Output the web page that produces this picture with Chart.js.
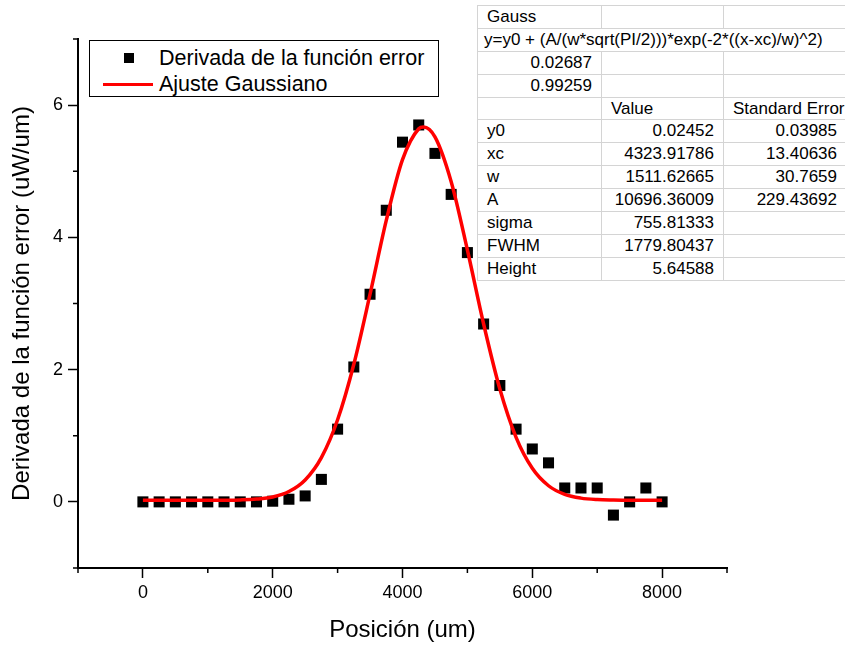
<!DOCTYPE html>
<html lang="es">
<head>
<meta charset="UTF-8">
<title>Derivada de la función error</title>
<script src="https://cdn.jsdelivr.net/npm/chart.js@4.4.0/dist/chart.umd.min.js"></script>
<style>
    body { margin: 0; overflow: hidden; background: #fff; font-family: "Liberation Sans", Arial, sans-serif; }
    #wrap { position: relative; width: 845px; height: 647px; }
    #legend { position: absolute; left: 89px; top: 40px; width: 348px; height: 55px; border: 1px solid #000; background: #fff; font-size: 21.5px; }
    .row { position: absolute; left: 0; height: 26px; line-height: 26px; white-space: nowrap; }
    .sq { position: absolute; left: 34px; top: 8px; width: 10px; height: 10px; background: #000; }
    .ln { position: absolute; left: 13px; top: 12px; width: 50px; height: 3px; background: #f00; }
    .txt { position: absolute; left: 69px; }
    #fit { position: absolute; left: 477px; top: 5px; width: 369px; border-collapse: collapse; table-layout: fixed; font-size: 17px; background: #fff; border: 1.5px solid #444; }
    #fit td { border: 1.5px solid #d4d4d4; height: 21.9px; padding: 0 9px; white-space: nowrap; overflow: visible; line-height: 20px; }
    #fit td.r { text-align: right; }
</style>
</head>
<body>
<div id="wrap">
    <canvas id="myChart" width="845" height="647"></canvas>
    <div id="legend">
        <div class="row" style="top:4px"><span class="sq"></span><span class="txt">Derivada de la función error</span></div>
        <div class="row" style="top:30px"><span class="ln"></span><span class="txt">Ajuste Gaussiano</span></div>
    </div>
    <table id="fit">
        <colgroup><col style="width:124px"><col style="width:122px"><col style="width:123px"></colgroup>
        <tr><td>Gauss</td><td></td><td></td></tr>
        <tr><td colspan="3" style="padding-left:6px">y=y0 + (A/(w*sqrt(PI/2)))*exp(-2*((x-xc)/w)^2)</td></tr>
        <tr><td class="r">0.02687</td><td></td><td></td></tr>
        <tr><td class="r">0.99259</td><td></td><td></td></tr>
        <tr><td></td><td>Value</td><td>Standard Error</td></tr>
        <tr><td>y0</td><td class="r">0.02452</td><td class="r">0.03985</td></tr>
        <tr><td>xc</td><td class="r">4323.91786</td><td class="r">13.40636</td></tr>
        <tr><td>w</td><td class="r">1511.62665</td><td class="r">30.7659</td></tr>
        <tr><td>A</td><td class="r">10696.36009</td><td class="r">229.43692</td></tr>
        <tr><td>sigma</td><td class="r">755.81333</td><td></td></tr>
        <tr><td>FWHM</td><td class="r">1779.80437</td><td></td></tr>
        <tr><td>Height</td><td class="r">5.64588</td><td></td></tr>
    </table>
</div>
<script>
    // puntos medidos
    const posicion = [0, 250, 500, 750, 1000, 1250, 1500, 1750, 2000, 2250, 2500, 2750, 3000, 3250, 3500, 3750, 4000,
        4250, 4500, 4750, 5000, 5250, 5500, 5750, 6000, 6250, 6500, 6750, 7000, 7250, 7500, 7750, 8000];
    const derivada = [0, 0, 0, 0, 0, 0, 0, 0, 0.01, 0.04, 0.09, 0.34, 1.1, 2.04, 3.14, 4.41, 5.44,
        5.7, 5.27, 4.65, 3.77, 2.69, 1.76, 1.1, 0.8, 0.59, 0.21, 0.21, 0.21, -0.2, 0, 0.21, 0];

    // curva de ajuste
    const ajusteX = [0, 250, 500, 750, 1000, 1250, 1500, 1750, 2000, 2250, 2500, 2750, 3000, 3250, 3500, 3750, 4000,
        4250, 4324, 4500, 4750, 5000, 5250, 5500, 5750, 6000, 6250, 6500, 6750, 7000, 7250, 7500, 7750, 8000];
    const ajusteY = [0.025, 0.025, 0.025, 0.025, 0.025, 0.026, 0.03, 0.042, 0.074, 0.156, 0.332, 0.67, 1.242, 2.082, 3.141, 4.256, 5.175,
        5.643, 5.67, 5.52, 4.842, 3.809, 2.69, 1.707, 0.976, 0.508, 0.244, 0.114, 0.057, 0.035, 0.028, 0.025, 0.025, 0.025];

    // ejes
    const xMajor = [0, 2000, 4000, 6000, 8000];
    const xMinor = [-1000, 1000, 3000, 5000, 7000, 9000];
    const yMajor = [0, 2, 4, 6];
    const yMinor = [-1, 1, 3, 5, 7];

    const font = "'Liberation Sans', Arial, sans-serif";

    const minorTicks = {
        id: 'minorTicks',
        afterDraw(chart) {
            const {ctx, chartArea, scales} = chart;
            ctx.save();
            ctx.strokeStyle = '#000';
            ctx.lineWidth = 1.5;
            ctx.beginPath();
            xMinor.forEach(v => {
                const px = scales.x.getPixelForValue(v);
                ctx.moveTo(px, chartArea.bottom);
                ctx.lineTo(px, chartArea.bottom + 5);
            });
            yMinor.forEach(v => {
                const py = scales.y.getPixelForValue(v);
                ctx.moveTo(chartArea.left - 5, py);
                ctx.lineTo(chartArea.left, py);
            });
            ctx.stroke();
            ctx.restore();
        }
    };

    const ctx = document.getElementById('myChart').getContext('2d');
    new Chart(ctx, {
        type: 'scatter',
        data: {
            datasets: [{
                label: 'Ajuste Gaussiano',
                data: ajusteX.map((x, i) => ({x: x, y: ajusteY[i]})),
                showLine: true,
                borderColor: '#ff0000',
                borderWidth: 3.5,
                pointRadius: 0,
                cubicInterpolationMode: 'monotone',
                order: 0
            }, {
                label: 'Derivada de la función error',
                data: posicion.map((x, i) => ({x: x, y: derivada[i]})),
                pointStyle: 'rect',
                pointRadius: 7.8,
                backgroundColor: '#000',
                borderWidth: 0,
                order: 1
            }]
        },
        options: {
            responsive: false,
            animation: false,
            layout: { padding: { left: 0, top: 39, right: 118, bottom: 0 } },
            plugins: { legend: { display: false }, tooltip: { enabled: false } },
            scales: {
                x: {
                    type: 'linear',
                    min: -1000, max: 9000,
                    afterFit(scale) { scale.height = 79; },
                    border: { display: true, color: '#000', width: 2 },
                    grid: {
                        drawOnChartArea: false, tickLength: 10, tickWidth: 1.5,
                        tickColor: c => xMajor.includes(c.tick.value) ? '#000' : 'rgba(0,0,0,0)'
                    },
                    ticks: {
                        stepSize: 1000, autoSkip: false, maxRotation: 0, padding: 4,
                        color: '#000', font: { family: font, size: 18 },
                        callback: v => xMajor.includes(v) ? String(v) : ''
                    },
                    title: {
                        display: true, text: 'Posición (um)', color: '#000',
                        font: { family: font, size: 24 }, padding: { top: 0, bottom: 2 }
                    }
                },
                y: {
                    type: 'linear',
                    min: -1, max: 7,
                    afterFit(scale) { scale.width = 78; },
                    border: { display: true, color: '#000', width: 2 },
                    grid: {
                        drawOnChartArea: false, tickLength: 10, tickWidth: 1.5,
                        tickColor: c => yMajor.includes(c.tick.value) ? '#000' : 'rgba(0,0,0,0)'
                    },
                    ticks: {
                        stepSize: 1, autoSkip: false, padding: 5,
                        color: '#000', font: { family: font, size: 18 },
                        callback: v => yMajor.includes(v) ? String(v) : ''
                    },
                    title: {
                        display: true, text: 'Derivada de la función error (uW/um)', color: '#000',
                        font: { family: font, size: 24 }, padding: { top: 8, bottom: 0 }
                    }
                }
            }
        },
        plugins: [minorTicks]
    });
</script>
</body>
</html>
